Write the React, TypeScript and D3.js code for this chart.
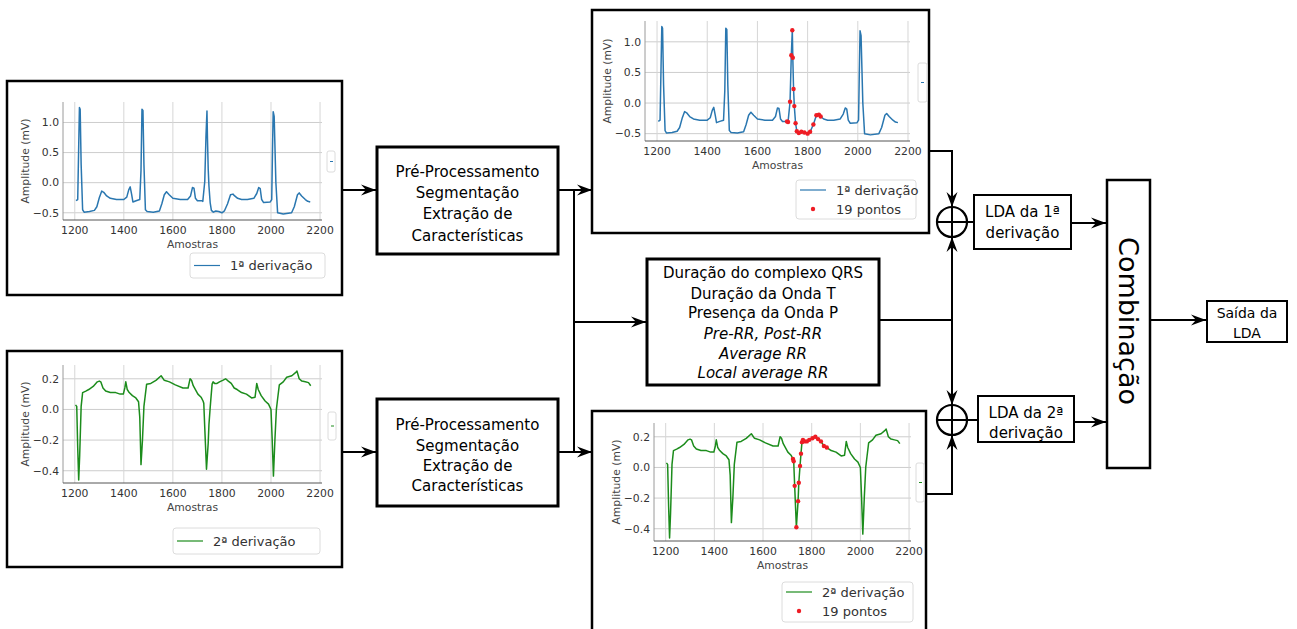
import * as d3 from 'd3'

// ECG lead 1 (sample, amplitude mV)
const lead1: [number, number][] = [
  [1205, -0.3], [1212, -0.28], [1216, 0.6], [1219, 1.25], [1222, 1.22], [1226, 0.3], [1232, -0.45],
  [1238, -0.49], [1260, -0.48], [1280, -0.46], [1290, -0.4], [1300, -0.25], [1310, -0.14], [1318, -0.16],
  [1330, -0.22], [1345, -0.26], [1370, -0.28], [1400, -0.28], [1412, -0.24], [1420, -0.12], [1426, -0.07],
  [1432, -0.2], [1437, -0.32], [1450, -0.3], [1465, -0.28], [1470, 0.2], [1474, 1.22], [1478, 1.2],
  [1482, 0.3], [1488, -0.45], [1495, -0.48], [1520, -0.49], [1545, -0.47], [1555, -0.35], [1565, -0.2],
  [1574, -0.15], [1585, -0.2], [1600, -0.26], [1630, -0.28], [1660, -0.28], [1672, -0.22], [1680, -0.08],
  [1686, -0.09], [1692, -0.26], [1700, -0.3], [1718, -0.3], [1722, -0.31], [1730, 0.02], [1735, 0.78],
  [1739, 1.19], [1741, 0.74], [1744, 0.23], [1747, -0.05], [1752, -0.33], [1757, -0.46], [1765, -0.49],
  [1775, -0.47], [1787, -0.48], [1800, -0.5], [1810, -0.47], [1823, -0.35], [1835, -0.2], [1845, -0.19],
  [1852, -0.22], [1864, -0.26], [1880, -0.28], [1904, -0.28], [1930, -0.26], [1942, -0.18], [1950, -0.08],
  [1956, -0.1], [1962, -0.28], [1970, -0.33], [1997, -0.32], [2003, -0.28], [2006, 0.5], [2009, 1.18],
  [2013, 1.1], [2020, 0.0], [2027, -0.5], [2050, -0.52], [2084, -0.5], [2095, -0.4], [2108, -0.2],
  [2115, -0.17], [2125, -0.22], [2140, -0.28], [2150, -0.31], [2160, -0.32],
]

const lead1Points: [number, number][] = [
  [1718, -0.3], [1722, -0.31], [1730, 0.02], [1735, 0.78], [1739, 1.19], [1741, 0.74], [1744, 0.23],
  [1747, -0.05], [1752, -0.33], [1757, -0.46], [1765, -0.49], [1775, -0.47], [1787, -0.48], [1800, -0.5],
  [1810, -0.47], [1823, -0.35], [1835, -0.2], [1845, -0.19], [1852, -0.22],
]

// ECG lead 2
const lead2: [number, number][] = [
  [1203, 0.03], [1208, 0.02], [1212, -0.25], [1216, -0.46], [1220, -0.3], [1226, 0.02], [1232, 0.11],
  [1245, 0.12], [1257, 0.13], [1275, 0.15], [1292, 0.18], [1300, 0.185], [1306, 0.18], [1315, 0.14],
  [1326, 0.12], [1345, 0.11], [1367, 0.11], [1385, 0.1], [1398, 0.1], [1404, 0.14], [1408, 0.18],
  [1414, 0.13], [1422, 0.11], [1435, 0.09], [1449, 0.075], [1460, 0.05], [1465, -0.05], [1470, -0.36],
  [1476, -0.2], [1482, 0.02], [1488, 0.1], [1493, 0.165], [1510, 0.17], [1531, 0.19], [1552, 0.22],
  [1565, 0.19], [1586, 0.18], [1610, 0.16], [1641, 0.14], [1662, 0.14], [1670, 0.2], [1676, 0.19],
  [1683, 0.155], [1702, 0.1], [1715, 0.08], [1723, 0.055], [1726, 0.04], [1730, -0.12], [1737, -0.39],
  [1744, -0.22], [1747, -0.1], [1752, 0.01], [1756, 0.09], [1760, 0.165], [1764, 0.18], [1770, 0.17],
  [1780, 0.17], [1790, 0.18], [1803, 0.19], [1815, 0.2], [1826, 0.185], [1838, 0.17], [1850, 0.14],
  [1862, 0.13], [1880, 0.11], [1900, 0.1], [1921, 0.075], [1935, 0.08], [1942, 0.17], [1948, 0.13],
  [1960, 0.09], [1976, 0.055], [1990, 0.035], [2000, 0.0], [2005, -0.2], [2010, -0.435], [2016, -0.2],
  [2022, 0.0], [2026, 0.055], [2034, 0.16], [2050, 0.18], [2064, 0.21], [2085, 0.22], [2100, 0.24],
  [2106, 0.25], [2115, 0.2], [2126, 0.185], [2140, 0.18], [2153, 0.175], [2162, 0.155],
]

const lead2Points: [number, number][] = [
  [1723, 0.055], [1726, 0.04], [1730, -0.12], [1737, -0.39], [1744, -0.22], [1747, -0.1], [1752, 0.01],
  [1756, 0.09], [1760, 0.165], [1764, 0.18], [1770, 0.17], [1780, 0.17], [1790, 0.18], [1803, 0.19],
  [1815, 0.2], [1826, 0.185], [1838, 0.17], [1850, 0.14], [1862, 0.13],
]

const xTicks = [1200, 1400, 1600, 1800, 2000, 2200]
const lead1YTicks = [-0.5, 0, 0.5, 1.0]
const lead2YTicks = [-0.4, -0.2, 0, 0.2]
const xDomain: [number, number] = [1152, 2208]
const lead1YDomain: [number, number] = [-0.62, 1.34]
const lead2YDomain: [number, number] = [-0.48, 0.29]

const procLines = ['Pré-Processamento', 'Segmentação', 'Extração de', 'Características']
const featureLines = [
  'Duração do complexo QRS',
  'Duração da Onda T',
  'Presença da Onda P',
  'Pre-RR, Post-RR',
  'Average RR',
  'Local average RR',
]
const italicFrom = 3

const FONT = '"DejaVu Sans", Verdana, sans-serif'
const BLUE = '#2a77b0'
const GREEN = '#1c8c1c'
const RED = '#ee1c24'

const fmt = (v: number) => d3.format('.1f')(v).replace('-', '\u2212')

interface PanelProps {
  box: [number, number, number, number]
  plot: [number, number, number, number]
  data: [number, number][]
  points?: [number, number][]
  yDomain: [number, number]
  yTicks: number[]
  color: string
  label: string
  legend: [number, number, number, number]
  stub: [number, number, number, number]
}

function EcgPanel({ box, plot, data, points, yDomain, yTicks, color, label, legend, stub }: PanelProps) {
  const [x0, y0, x1, y1] = plot
  const x = d3.scaleLinear().domain(xDomain).range([x0, x1])
  const y = d3.scaleLinear().domain(yDomain).range([y1, y0])
  const line = d3
    .line<[number, number]>()
    .x((d) => x(d[0]))
    .y((d) => y(d[1]))
  const [lx, ly, lw, lh] = legend
  const hasPts = !!points
  return (
    <g>
      <rect x={box[0]} y={box[1]} width={box[2] - box[0]} height={box[3] - box[1]} fill="#fff" stroke="#000" strokeWidth={2.5} />
      {/* grid */}
      {yTicks.map((t) => (
        <line key={'gy' + t} x1={x0} x2={x1} y1={y(t)} y2={y(t)} stroke="#cdcdcd" strokeWidth={1} />
      ))}
      {xTicks.map((t) => (
        <line key={'gx' + t} x1={x(t)} x2={x(t)} y1={y0} y2={y1} stroke="#d6d6d6" strokeWidth={1} />
      ))}
      <line x1={x0} x2={x0} y1={y0} y2={y1} stroke="#9a9a9a" strokeWidth={1} />
      <line x1={x0} x2={x1} y1={y1} y2={y1} stroke="#555" strokeWidth={1} />
      {/* tick labels */}
      {yTicks.map((t) => (
        <text key={'ly' + t} x={x0 - 4} y={y(t)} dy="0.35em" textAnchor="end" fontSize={10.8} fill="#333">
          {fmt(t)}
        </text>
      ))}
      {xTicks.map((t) => (
        <text key={'lx' + t} x={x(t)} y={y1 + 10} dy="0.35em" textAnchor="middle" fontSize={10.8} fill="#333">
          {t}
        </text>
      ))}
      <text x={(x0 + x1) / 2} y={y1 + 24} dy="0.35em" textAnchor="middle" fontSize={10.8} fill="#444">
        Amostras
      </text>
      <text
        transform={`translate(${x0 - 38},${(y0 + y1) / 2}) rotate(-90)`}
        dy="0.35em"
        textAnchor="middle"
        fontSize={10.8}
        fill="#444"
      >
        Amplitude (mV)
      </text>
      <path d={line(data) || ''} fill="none" stroke={color} strokeWidth={1.5} strokeLinejoin="round" />
      {points &&
        points.map((p, i) => <circle key={i} cx={x(p[0])} cy={y(p[1])} r={2.2} fill={RED} />)}
      {/* legend */}
      <rect x={lx} y={ly} width={lw} height={lh} rx={3} fill="#fff" fillOpacity={0.9} stroke="#dcdcdc" />
      <line x1={lx + 4} x2={lx + 30} y1={ly + (hasPts ? 10 : lh / 2)} y2={ly + (hasPts ? 10 : lh / 2)} stroke={color} strokeWidth={1.2} />
      <text x={lx + 40} y={ly + (hasPts ? 10 : lh / 2)} dy="0.35em" fontSize={13} fill="#333">
        {label}
      </text>
      {hasPts && (
        <>
          <circle cx={lx + 17} cy={ly + 29} r={2.2} fill={RED} />
          <text x={lx + 40} y={ly + 29} dy="0.35em" fontSize={13} fill="#333">
            19 pontos
          </text>
        </>
      )}
      {/* clipped legend stub on the right */}
      <rect x={stub[0]} y={stub[1]} width={stub[2]} height={stub[3]} rx={2} fill="#fff" stroke="#dcdcdc" />
      <line x1={stub[0] + 3} x2={stub[0] + 6} y1={stub[1] + stub[3] / 2} y2={stub[1] + stub[3] / 2} stroke={color} />
    </g>
  )
}

function TextBlock({ cx, ys, lines, size, italicStart }: { cx: number; ys: number[]; lines: string[]; size: number; italicStart?: number }) {
  return (
    <g>
      {lines.map((l, i) => (
        <text
          key={i}
          x={cx}
          y={ys[i]}
          dy="0.35em"
          textAnchor="middle"
          fontSize={size}
          fontStyle={italicStart !== undefined && i >= italicStart ? 'italic' : 'normal'}
          fill="#000"
        >
          {l}
        </text>
      ))}
    </g>
  )
}

function Plus({ cx, cy, r }: { cx: number; cy: number; r: number }) {
  return (
    <g>
      <circle cx={cx} cy={cy} r={r} fill="#fff" stroke="#000" strokeWidth={2.2} />
      <line x1={cx - r} x2={cx + r} y1={cy} y2={cy} stroke="#000" strokeWidth={2} />
      <line x1={cx} x2={cx} y1={cy - r} y2={cy + r} stroke="#000" strokeWidth={2} />
    </g>
  )
}

export default function App() {
  const W = 1297
  const H = 629
  const wire = { stroke: '#000', strokeWidth: 2, fill: 'none' }
  const arrow = { ...wire, markerEnd: 'url(#arr)' }
  return (
    <svg
      width={W}
      height={H}
      style={{ position: 'absolute', left: 0, top: 0, background: '#fff', fontFamily: FONT }}
    >
      <defs>
        <marker id="arr" viewBox="-15 -6 16 12" refX={0} refY={0} markerWidth={16} markerHeight={12} markerUnits="userSpaceOnUse" orient="auto">
          <path d="M0,0 L-15,-5.5 L-10,0 L-15,5.5 Z" fill="#000" />
        </marker>
      </defs>

      {/* connecting wires */}
      <path d="M342,190 L376,190" {...arrow} />
      <path d="M342,452 L376,452" {...arrow} />
      <path d="M558,190 L592,190" {...arrow} />
      <path d="M558,452 L592,452" {...arrow} />
      <path d="M574,190 L574,452" {...wire} />
      <path d="M574,322 L646,322" {...arrow} />
      <path d="M929,151 L952,151 L952,207" {...arrow} />
      <path d="M926,494 L952,494 L952,435" {...arrow} />
      <path d="M879,320 L952,320" {...wire} />
      <path d="M952,320 L952,237" {...arrow} />
      <path d="M952,320 L952,405" {...arrow} />
      <path d="M967,222 L974,222" {...wire} />
      <path d="M967,420 L978,420" {...wire} />
      <path d="M1071,223 L1106,223" {...arrow} />
      <path d="M1074,422 L1106,422" {...arrow} />
      <path d="M1150,320 L1206,320" {...arrow} />

      <EcgPanel
        box={[7, 81, 342, 295]}
        plot={[63, 102, 322, 220]}
        data={lead1}
        yDomain={lead1YDomain}
        yTicks={lead1YTicks}
        color={BLUE}
        label="1ª derivação"
        legend={[190, 253, 135, 25]}
        stub={[327, 151, 8, 21]}
      />
      <EcgPanel
        box={[7, 351, 342, 567]}
        plot={[63, 365, 322, 483]}
        data={lead2}
        yDomain={lead2YDomain}
        yTicks={lead2YTicks}
        color={GREEN}
        label="2ª derivação"
        legend={[173, 528, 147, 26]}
        stub={[328, 412, 8, 28]}
      />
      <EcgPanel
        box={[592, 10, 929, 233]}
        plot={[645, 21, 910, 141]}
        data={lead1}
        points={lead1Points}
        yDomain={lead1YDomain}
        yTicks={lead1YTicks}
        color={BLUE}
        label="1ª derivação"
        legend={[796, 180, 120, 39]}
        stub={[918, 63, 9, 39]}
      />
      <EcgPanel
        box={[592, 411, 926, 640]}
        plot={[654, 423, 911, 541]}
        data={lead2}
        points={lead2Points}
        yDomain={lead2YDomain}
        yTicks={lead2YTicks}
        color={GREEN}
        label="2ª derivação"
        legend={[782, 582, 131, 40]}
        stub={[916, 463, 8, 39]}
      />

      {/* processing blocks */}
      <rect x={377} y={147} width={181} height={107} fill="#fff" stroke="#000" strokeWidth={3} />
      <TextBlock cx={467.5} ys={[172, 193, 214, 236]} lines={procLines} size={15} />
      <rect x={377} y={399} width={181} height={107} fill="#fff" stroke="#000" strokeWidth={3} />
      <TextBlock cx={467.5} ys={[425, 446, 466, 486]} lines={procLines} size={15} />

      <rect x={647} y={259} width={232} height={126} fill="#fff" stroke="#000" strokeWidth={3} />
      <TextBlock cx={763} ys={[273, 294, 313, 334, 354, 373]} lines={featureLines} size={15} italicStart={italicFrom} />

      <Plus cx={952} cy={222} r={15} />
      <Plus cx={952} cy={420} r={15} />

      <rect x={974} y={195} width={97} height={54} fill="#fff" stroke="#000" strokeWidth={2} />
      <TextBlock cx={1022.5} ys={[212, 233]} lines={['LDA da 1ª', 'derivação']} size={15} />
      <rect x={978} y={396} width={96} height={46} fill="#fff" stroke="#000" strokeWidth={2} />
      <TextBlock cx={1026} ys={[413, 433]} lines={['LDA da 2ª', 'derivação']} size={15} />

      <rect x={1107} y={180} width={43} height={288} fill="#fff" stroke="#000" strokeWidth={2.5} />
      <text transform="translate(1128.5,321) rotate(90)" dy="0.35em" textAnchor="middle" fontSize={27} fill="#000">
        Combinação
      </text>

      <rect x={1207} y={301} width={80} height={41} fill="#fff" stroke="#000" strokeWidth={2} />
      <TextBlock cx={1247} ys={[313, 333]} lines={['Saída da', 'LDA']} size={14} />
    </svg>
  )
}
